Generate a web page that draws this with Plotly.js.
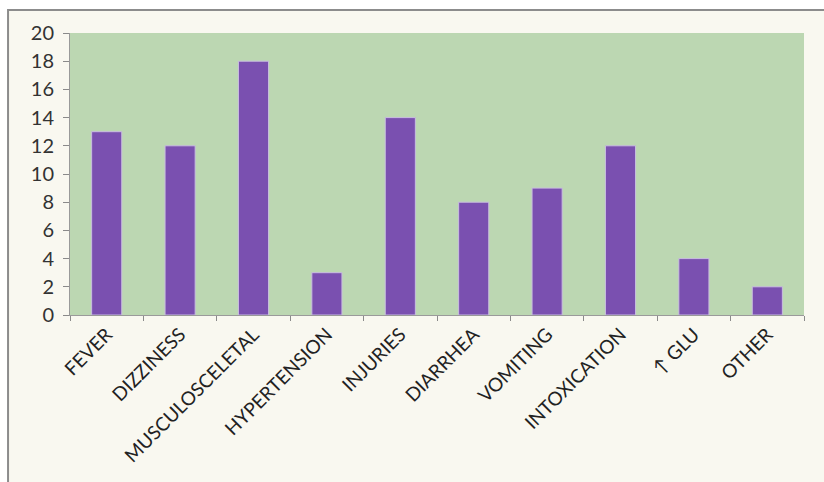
<!DOCTYPE html>
<html>
<head>
<meta charset="utf-8">
<script src="https://cdn.plot.ly/plotly-3.0.1.min.js"></script>
<style>html,body{margin:0;padding:0;background:#fff;}#chart{width:824px;height:482px;}</style>
</head>
<body>
<div id="chart"></div>
<script>
const categories = ["FEVER", "DIZZINESS", "MUSCULOSCELETAL", "HYPERTENSION", "INJURIES", "DIARRHEA", "VOMITING", "INTOXICATION", "↑ GLU", "OTHER"];
const counts = [13, 12, 18, 3, 14, 8, 9, 12, 4, 2];
const yTicks = [0, 2, 4, 6, 8, 10, 12, 14, 16, 18, 20];

const trace = {
  type: "bar",
  x: categories,
  y: counts,
  marker: { color: "#7a50b0", line: { color: "#c9bde0", width: 1 } },
  hoverinfo: "x+y"
};

const layout = {
  width: 824, height: 482,
  margin: { l: 70, r: 20, t: 33, b: 167 },
  paper_bgcolor: "#ffffff",
  plot_bgcolor: "rgba(0,0,0,0)",
  bargap: 0.59,
  showlegend: false,
  font: { family: "Lato, 'Open Sans', sans-serif", size: 16, color: "#2b2b2b" },
  xaxis: {
    type: "category",
    tickangle: -45,
    tickson: "boundaries",
    ticks: "outside", ticklen: 5, tickcolor: "#8a8a8a",
    showline: true, linecolor: "#9a9a9a", linewidth: 1,
    showgrid: false,
    tickfont: { size: 19, color: "#222" }
  },
  yaxis: {
    range: [0, 20],
    tickvals: yTicks,
    ticks: "outside", ticklen: 6, tickcolor: "#8a8a8a",
    ticklabelstandoff: 5,
    showline: true, linecolor: "#9a9a9a", linewidth: 1,
    showgrid: false, zeroline: false,
    tickfont: { size: 20, color: "#333" }
  },
  shapes: [
    { type: "rect", xref: "paper", yref: "paper", layer: "below",
      x0: -0.0844, x1: 1.06, y0: -0.7, y1: 1.0816,
      fillcolor: "#f9f8f0", line: { color: "#8c8c8c", width: 2 } },
    { type: "rect", xref: "x domain", yref: "y domain", layer: "below",
      x0: 0, x1: 1, y0: 0, y1: 1,
      fillcolor: "#bcd7b2", line: { width: 0 } }
  ]
};

Plotly.newPlot("chart", [trace], layout, { displayModeBar: false, staticPlot: true });
</script>
</body>
</html>
